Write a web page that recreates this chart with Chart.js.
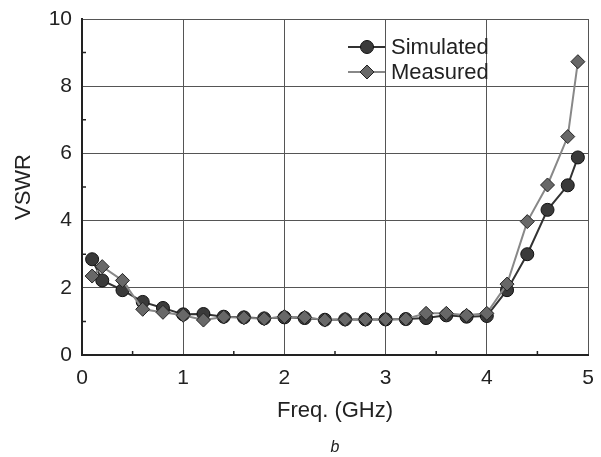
<!DOCTYPE html>
<html>
<head>
<meta charset="utf-8">
<script src="https://cdn.jsdelivr.net/npm/chart.js@4.4.1/dist/chart.umd.min.js"></script>
<style>
  html, body { margin: 0; padding: 0; background: #fff; }
  #wrap { width: 601px; height: 457px; position: relative; }
</style>
</head>
<body>
<div id="wrap"><canvas id="c" width="601" height="457"></canvas></div>
<script>
const freq = [0.1, 0.2, 0.4, 0.6, 0.8, 1.0, 1.2, 1.4, 1.6, 1.8, 2.0, 2.2, 2.4, 2.6, 2.8, 3.0, 3.2, 3.4, 3.6, 3.8, 4.0, 4.2, 4.4, 4.6, 4.8, 4.9];
const simulated = [2.85, 2.22, 1.93, 1.58, 1.40, 1.21, 1.22, 1.14, 1.12, 1.09, 1.12, 1.10, 1.05, 1.06, 1.06, 1.06, 1.07, 1.10, 1.18, 1.14, 1.16, 1.93, 3.00, 4.32, 5.05, 5.88];
const measured = [2.35, 2.63, 2.22, 1.36, 1.27, 1.18, 1.04, 1.13, 1.11, 1.08, 1.14, 1.12, 1.04, 1.06, 1.06, 1.06, 1.07, 1.24, 1.24, 1.18, 1.24, 2.11, 3.97, 5.06, 6.50, 8.73];
const seriesNames = ['Simulated', 'Measured'];
const xTicks = [0, 1, 2, 3, 4, 5];
const yTicks = [0, 2, 4, 6, 8, 10];
const xMinorTicks = [0.5, 1.5, 2.5, 3.5, 4.5];
const yMinorTicks = [1, 3, 5, 7, 9];
const caption = 'b';

const FONT = "'Liberation Sans', Arial, sans-serif";
const TEXT = '#222';

const minorTickPlugin = {
  id: 'minorTicks',
  beforeDatasetsDraw(chart) {
    const {ctx, chartArea, scales} = chart;
    ctx.save();
    ctx.strokeStyle = '#222';
    ctx.lineWidth = 1.5;
    ctx.beginPath();
    xMinorTicks.forEach(v => {
      const x = scales.x.getPixelForValue(v);
      ctx.moveTo(x, chartArea.bottom);
      ctx.lineTo(x, chartArea.bottom - 4);
    });
    yMinorTicks.forEach(v => {
      const y = scales.y.getPixelForValue(v);
      ctx.moveTo(chartArea.left, y);
      ctx.lineTo(chartArea.left + 4, y);
    });
    ctx.stroke();
    ctx.restore();
  }
};

const legendPlugin = {
  id: 'inLegend',
  afterDraw(chart) {
    const {ctx, chartArea} = chart;
    ctx.save();
    const rows = [{ds: chart.data.datasets[1], y: 47}, {ds: chart.data.datasets[0], y: 72}];
    rows.forEach(r => {
      const ds = r.ds;
      ctx.strokeStyle = ds.borderColor;
      ctx.lineWidth = 2;
      ctx.beginPath();
      ctx.moveTo(348, r.y);
      ctx.lineTo(385, r.y);
      ctx.stroke();
      ctx.fillStyle = ds.pointBackgroundColor;
      ctx.strokeStyle = ds.pointBorderColor;
      ctx.lineWidth = 1;
      Chart.helpers.drawPoint(ctx, {pointStyle: ds.pointStyle, rotation: 0, borderWidth: 1, radius: ds.pointRadius}, 367, r.y);
      ctx.fillStyle = TEXT;
      ctx.font = "22px " + FONT;
      ctx.textBaseline = 'middle';
      ctx.textAlign = 'left';
      ctx.fillText(ds.label, 391, r.y + 1);
    });
    // caption under the plot
    ctx.fillStyle = TEXT;
    ctx.font = "italic 16px " + FONT;
    ctx.textAlign = 'center';
    ctx.textBaseline = 'middle';
    ctx.fillText(caption, (chartArea.left + chartArea.right) / 2, 448);
    ctx.restore();
  }
};

const chart = new Chart(document.getElementById('c'), {
  type: 'line',
  data: {
    datasets: [
      {
        label: seriesNames[1],
        data: freq.map((f, i) => ({x: f, y: measured[i]})),
        borderColor: '#888',
        borderWidth: 2,
        pointStyle: 'rectRot',
        pointRadius: 7,
        pointBackgroundColor: '#686868',
        pointBorderColor: '#222',
        pointBorderWidth: 1,
        tension: 0,
        order: 0
      },
      {
        label: seriesNames[0],
        data: freq.map((f, i) => ({x: f, y: simulated[i]})),
        borderColor: '#333',
        borderWidth: 2,
        pointStyle: 'circle',
        pointRadius: 6.5,
        pointBackgroundColor: '#3a3a3a',
        pointBorderColor: '#111',
        pointBorderWidth: 1,
        tension: 0,
        order: 1
      }
    ]
  },
  options: {
    responsive: false,
    animation: false,
    devicePixelRatio: 1,
    layout: { padding: { top: 19, right: 13, left: 0, bottom: 33 } },
    plugins: {
      legend: { display: false },
      tooltip: { enabled: false },
      title: { display: false }
    },
    scales: {
      x: {
        type: 'linear',
        min: 0, max: 5,
        afterBuildTicks: s => { s.ticks = xTicks.map(v => ({value: v})); },
        afterFit: s => { s.height = 69; s.paddingRight = 0; s.paddingLeft = 0; },
        grid: { color: '#555', lineWidth: 1, drawTicks: false },
        border: { color: '#222', width: 2 },
        ticks: { color: TEXT, font: { family: FONT, size: 21 }, padding: 11, maxRotation: 0 },
        title: { display: true, text: 'Freq. (GHz)', color: TEXT, font: { family: FONT, size: 22 }, padding: { top: 0, bottom: 0 } }
      },
      y: {
        type: 'linear',
        min: 0, max: 10,
        afterBuildTicks: s => { s.ticks = yTicks.map(v => ({value: v})); },
        afterFit: s => { s.width = 82; s.paddingTop = 0; s.paddingBottom = 0; },
        grid: { color: '#555', lineWidth: 1, drawTicks: false },
        border: { color: '#222', width: 2 },
        ticks: { color: TEXT, font: { family: FONT, size: 21 }, padding: 10 },
        title: { display: true, text: 'VSWR', color: TEXT, font: { family: FONT, size: 22 }, padding: { top: 11, bottom: 0 } }
      }
    }
  },
  plugins: [minorTickPlugin, legendPlugin]
});
</script>
</body>
</html>
